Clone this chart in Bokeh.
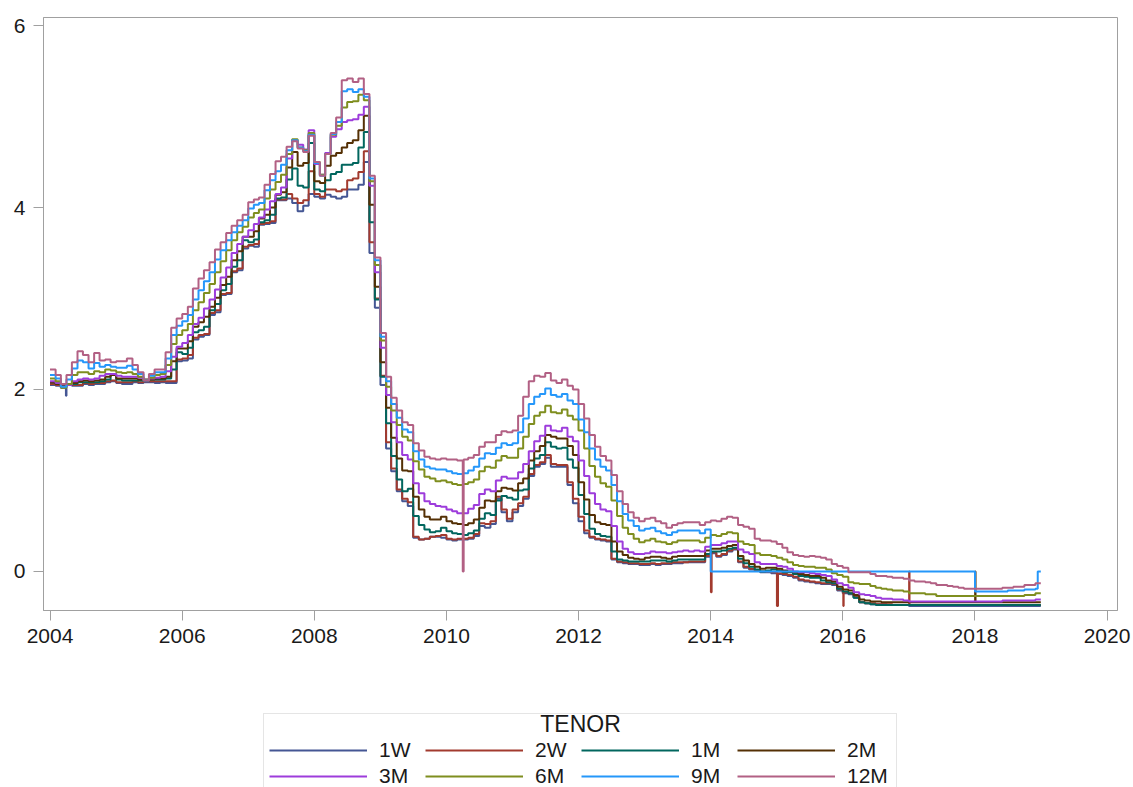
import pandas as pd
from bokeh.plotting import figure
from bokeh.layouts import column
from bokeh.models import (Range1d, FixedTicker, DatetimeTickFormatter, Legend,
                          LegendItem, Label)
from bokeh.embed import file_html
from bokeh.resources import INLINE

# Monthly fixings, first business day of each month, Jan 2004 .. Dec 2018
FIRST_MONTH = "2004-01-01"
LAST_MONTH = "2018-12-01"
LAST_DAY = "2018-12-31"

TENORS = ["1W", "2W", "1M", "2M", "3M", "6M", "9M", "12M"]
COLORS = ["#445694", "#A23A2E", "#01665E", "#543005",
          "#9D3CDB", "#7F8E1F", "#2597FA", "#B26084"]

RATE_1W = [
    2.05, 2.04, 2.02, 2.05, 2.04, 2.04, 2.06, 2.05, 2.06, 2.06, 2.08, 2.09,
    2.07, 2.06, 2.06, 2.08, 2.07, 2.08, 2.08, 2.07, 2.08, 2.07, 2.07, 2.31,
    2.32, 2.34, 2.55, 2.58, 2.60, 2.82, 2.85, 3.04, 3.05, 3.29, 3.31, 3.55,
    3.58, 3.57, 3.81, 3.82, 3.83, 4.08, 4.08, 4.10, 4.05, 3.96, 4.02, 4.15,
    4.12, 4.10, 4.14, 4.12, 4.10, 4.12, 4.20, 4.20, 4.25, 4.50, 3.50, 2.90,
    2.05, 1.35, 1.10, 0.88, 0.77, 0.72, 0.37, 0.35, 0.36, 0.38, 0.38, 0.37,
    0.35, 0.34, 0.35, 0.35, 0.36, 0.39, 0.50, 0.48, 0.52, 0.80, 0.65, 0.55,
    0.65, 0.72, 0.80, 1.05, 1.15, 1.18, 1.25, 1.15, 1.15, 1.15, 0.95, 0.75,
    0.55, 0.42, 0.37, 0.35, 0.34, 0.33, 0.13, 0.10, 0.09, 0.08, 0.08, 0.07,
    0.07, 0.08, 0.07, 0.08, 0.08, 0.09, 0.09, 0.10, 0.10, 0.10, 0.10, 0.16,
    0.20, 0.16, 0.18, 0.22, 0.24, 0.10, 0.04, 0.02, 0.01, -0.01, -0.01, -0.02,
    -0.03, -0.04, -0.05, -0.07, -0.10, -0.11, -0.12, -0.13, -0.14, -0.14, -0.15, -0.21,
    -0.24, -0.25, -0.29, -0.34, -0.35, -0.36, -0.36, -0.36, -0.37, -0.37, -0.37, -0.37,
    -0.38, -0.38, -0.38, -0.38, -0.38, -0.38, -0.38, -0.38, -0.38, -0.38, -0.38, -0.38,
    -0.38, -0.38, -0.38, -0.38, -0.38, -0.38, -0.38, -0.38, -0.38, -0.38, -0.38, -0.38,
]

RATE_2W = [
    2.06, 2.05, 2.03, 2.05, 2.05, 2.05, 2.07, 2.06, 2.07, 2.07, 2.09, 2.10,
    2.08, 2.08, 2.08, 2.09, 2.08, 2.09, 2.09, 2.09, 2.09, 2.09, 2.09, 2.33,
    2.34, 2.38, 2.57, 2.60, 2.61, 2.84, 2.87, 3.05, 3.06, 3.30, 3.33, 3.57,
    3.59, 3.60, 3.82, 3.83, 3.85, 4.09, 4.09, 4.15, 4.10, 4.05, 4.08, 4.40,
    4.15, 4.12, 4.20, 4.20, 4.18, 4.20, 4.30, 4.32, 4.39, 4.62, 3.62, 3.00,
    2.15, 1.42, 1.13, 0.90, 0.80, 0.76, 0.38, 0.35, 0.36, 0.38, 0.39, 0.40,
    0.36, 0.35, 0.36, 0.36, 0.37, 0.41, 0.53, 0.52, 0.55, 0.82, 0.68, 0.58,
    0.68, 0.75, 0.82, 1.07, 1.17, 1.20, 1.28, 1.18, 1.17, 1.17, 0.98, 0.80,
    0.60, 0.45, 0.38, 0.36, 0.35, 0.34, 0.14, 0.11, 0.10, 0.09, 0.09, 0.08,
    0.08, 0.09, 0.08, 0.09, 0.09, 0.10, 0.10, 0.10, 0.11, 0.11, 0.11, 0.17,
    0.21, 0.17, 0.19, 0.23, 0.25, 0.11, 0.05, 0.03, 0.01, 0.00, 0.00, -0.01,
    -0.02, -0.03, -0.04, -0.06, -0.09, -0.10, -0.11, -0.12, -0.13, -0.13, -0.14, -0.20,
    -0.23, -0.24, -0.28, -0.34, -0.35, -0.35, -0.36, -0.36, -0.36, -0.37, -0.37, -0.37,
    -0.37, -0.37, -0.37, -0.37, -0.37, -0.37, -0.37, -0.37, -0.37, -0.37, -0.37, -0.37,
    -0.37, -0.37, -0.37, -0.37, -0.37, -0.37, -0.37, -0.37, -0.37, -0.37, -0.37, -0.37,
]

RATE_1M = [
    2.08, 2.06, 2.04, 2.05, 2.06, 2.08, 2.08, 2.08, 2.08, 2.09, 2.11, 2.17,
    2.11, 2.10, 2.10, 2.10, 2.10, 2.10, 2.11, 2.11, 2.11, 2.12, 2.22, 2.41,
    2.39, 2.46, 2.63, 2.65, 2.69, 2.87, 2.94, 3.09, 3.16, 3.35, 3.42, 3.64,
    3.62, 3.65, 3.84, 3.86, 3.92, 4.10, 4.11, 4.31, 4.43, 4.24, 4.22, 4.71,
    4.20, 4.18, 4.30, 4.37, 4.39, 4.47, 4.47, 4.49, 4.66, 4.83, 3.84, 2.99,
    2.14, 1.63, 1.27, 1.01, 0.88, 0.91, 0.61, 0.51, 0.46, 0.43, 0.44, 0.48,
    0.44, 0.42, 0.41, 0.40, 0.42, 0.45, 0.58, 0.64, 0.62, 0.78, 0.83, 0.81,
    0.79, 0.89, 0.90, 1.13, 1.24, 1.28, 1.42, 1.37, 1.35, 1.36, 1.23, 1.14,
    0.84, 0.63, 0.47, 0.41, 0.39, 0.38, 0.22, 0.13, 0.12, 0.11, 0.11, 0.11,
    0.11, 0.12, 0.12, 0.12, 0.11, 0.12, 0.13, 0.13, 0.13, 0.13, 0.13, 0.19,
    0.22, 0.22, 0.23, 0.25, 0.26, 0.14, 0.09, 0.05, 0.02, 0.00, 0.01, 0.02,
    0.01, -0.01, -0.01, -0.03, -0.05, -0.06, -0.07, -0.07, -0.10, -0.12, -0.13, -0.19,
    -0.22, -0.24, -0.29, -0.34, -0.35, -0.36, -0.37, -0.37, -0.37, -0.37, -0.37, -0.37,
    -0.37, -0.37, -0.37, -0.37, -0.37, -0.37, -0.37, -0.37, -0.37, -0.37, -0.37, -0.37,
    -0.37, -0.37, -0.37, -0.37, -0.37, -0.37, -0.37, -0.37, -0.37, -0.37, -0.37, -0.37,
]

RATE_2M = [
    2.08, 2.06, 2.04, 2.05, 2.07, 2.09, 2.10, 2.09, 2.10, 2.11, 2.14, 2.16,
    2.12, 2.12, 2.12, 2.12, 2.11, 2.10, 2.11, 2.12, 2.12, 2.14, 2.31, 2.45,
    2.45, 2.53, 2.69, 2.74, 2.80, 2.91, 3.01, 3.15, 3.24, 3.42, 3.52, 3.68,
    3.68, 3.74, 3.88, 3.92, 4.00, 4.14, 4.17, 4.44, 4.61, 4.46, 4.49, 4.80,
    4.29, 4.27, 4.46, 4.57, 4.60, 4.66, 4.71, 4.74, 4.85, 5.01, 4.03, 3.13,
    2.30, 1.80, 1.47, 1.24, 1.11, 1.10, 0.82, 0.68, 0.60, 0.57, 0.57, 0.60,
    0.55, 0.53, 0.52, 0.51, 0.53, 0.57, 0.70, 0.78, 0.77, 0.88, 0.92, 0.91,
    0.89, 0.97, 1.02, 1.22, 1.32, 1.38, 1.50, 1.48, 1.46, 1.46, 1.38, 1.28,
    0.98, 0.79, 0.62, 0.54, 0.52, 0.51, 0.33, 0.22, 0.18, 0.15, 0.14, 0.13,
    0.15, 0.16, 0.16, 0.15, 0.14, 0.16, 0.17, 0.17, 0.17, 0.17, 0.17, 0.23,
    0.25, 0.25, 0.26, 0.28, 0.29, 0.17, 0.12, 0.08, 0.05, 0.03, 0.04, 0.04,
    0.03, 0.01, 0.00, -0.01, -0.03, -0.04, -0.05, -0.05, -0.07, -0.10, -0.11, -0.17,
    -0.20, -0.21, -0.26, -0.31, -0.32, -0.33, -0.33, -0.34, -0.34, -0.34, -0.34, -0.34,
    -0.34, -0.34, -0.34, -0.34, -0.34, -0.34, -0.34, -0.34, -0.34, -0.34, -0.34, -0.34,
    -0.34, -0.34, -0.34, -0.34, -0.34, -0.34, -0.34, -0.34, -0.34, -0.34, -0.34, -0.34,
]

RATE_3M = [
    2.09, 2.07, 2.03, 2.05, 2.09, 2.11, 2.12, 2.11, 2.12, 2.15, 2.17, 2.17,
    2.15, 2.14, 2.14, 2.14, 2.13, 2.11, 2.12, 2.13, 2.14, 2.20, 2.36, 2.47,
    2.51, 2.60, 2.72, 2.79, 2.89, 2.99, 3.10, 3.23, 3.34, 3.50, 3.60, 3.68,
    3.75, 3.82, 3.89, 3.98, 4.07, 4.15, 4.22, 4.54, 4.74, 4.69, 4.64, 4.85,
    4.48, 4.36, 4.60, 4.78, 4.86, 4.94, 4.96, 4.97, 5.02, 5.11, 4.24, 3.29,
    2.46, 1.94, 1.64, 1.42, 1.28, 1.23, 0.97, 0.86, 0.77, 0.74, 0.72, 0.71,
    0.68, 0.66, 0.64, 0.64, 0.69, 0.73, 0.85, 0.90, 0.88, 1.00, 1.04, 1.02,
    1.02, 1.09, 1.18, 1.32, 1.43, 1.49, 1.60, 1.55, 1.54, 1.58, 1.48, 1.43,
    1.22, 1.05, 0.86, 0.74, 0.68, 0.66, 0.50, 0.33, 0.25, 0.21, 0.19, 0.19,
    0.20, 0.22, 0.21, 0.21, 0.20, 0.21, 0.22, 0.23, 0.22, 0.23, 0.22, 0.27,
    0.29, 0.29, 0.31, 0.33, 0.33, 0.24, 0.21, 0.19, 0.10, 0.08, 0.08, 0.08,
    0.06, 0.05, 0.03, 0.00, -0.01, -0.01, -0.02, -0.03, -0.04, -0.05, -0.09, -0.13,
    -0.15, -0.18, -0.23, -0.25, -0.26, -0.27, -0.29, -0.30, -0.30, -0.31, -0.31, -0.32,
    -0.33, -0.33, -0.33, -0.33, -0.33, -0.33, -0.33, -0.33, -0.33, -0.33, -0.33, -0.33,
    -0.33, -0.33, -0.33, -0.33, -0.33, -0.32, -0.32, -0.32, -0.32, -0.32, -0.32, -0.31,
]

RATE_6M = [
    2.12, 2.09, 2.02, 2.06, 2.16, 2.19, 2.19, 2.17, 2.20, 2.19, 2.22, 2.21,
    2.19, 2.18, 2.19, 2.17, 2.14, 2.11, 2.13, 2.16, 2.17, 2.27, 2.50, 2.60,
    2.65, 2.72, 2.87, 2.96, 3.06, 3.16, 3.29, 3.41, 3.53, 3.64, 3.73, 3.79,
    3.89, 3.94, 3.98, 4.10, 4.20, 4.28, 4.36, 4.59, 4.75, 4.66, 4.63, 4.82,
    4.50, 4.36, 4.59, 4.80, 4.90, 5.10, 5.16, 5.17, 5.24, 5.18, 4.29, 3.37,
    2.54, 2.03, 1.77, 1.61, 1.48, 1.44, 1.21, 1.12, 1.04, 1.02, 0.99, 1.00,
    0.98, 0.96, 0.95, 0.96, 0.98, 1.01, 1.10, 1.15, 1.14, 1.22, 1.27, 1.25,
    1.25, 1.35, 1.48, 1.62, 1.71, 1.75, 1.82, 1.75, 1.74, 1.78, 1.71, 1.67,
    1.55, 1.35, 1.16, 1.04, 0.97, 0.93, 0.78, 0.61, 0.48, 0.41, 0.36, 0.32,
    0.34, 0.36, 0.33, 0.32, 0.30, 0.32, 0.34, 0.34, 0.34, 0.34, 0.32, 0.37,
    0.40, 0.39, 0.41, 0.43, 0.42, 0.33, 0.30, 0.29, 0.20, 0.18, 0.18, 0.17,
    0.15, 0.13, 0.10, 0.07, 0.06, 0.05, 0.05, 0.04, 0.04, 0.02, -0.02, -0.04,
    -0.06, -0.12, -0.13, -0.14, -0.14, -0.16, -0.18, -0.19, -0.20, -0.21, -0.21, -0.22,
    -0.24, -0.24, -0.24, -0.25, -0.25, -0.27, -0.27, -0.27, -0.27, -0.27, -0.27, -0.27,
    -0.27, -0.27, -0.27, -0.27, -0.27, -0.27, -0.27, -0.27, -0.27, -0.26, -0.26, -0.24,
]

# 9M fixings were stored as 0 between Jan 2014 and Dec 2017
RATE_9M = [
    2.16, 2.12, 2.03, 2.11, 2.23, 2.32, 2.30, 2.23, 2.29, 2.25, 2.27, 2.25,
    2.24, 2.24, 2.26, 2.22, 2.17, 2.10, 2.15, 2.19, 2.19, 2.34, 2.60, 2.70,
    2.75, 2.82, 2.99, 3.09, 3.19, 3.29, 3.43, 3.53, 3.64, 3.73, 3.80, 3.86,
    3.99, 4.03, 4.05, 4.19, 4.30, 4.40, 4.47, 4.63, 4.74, 4.66, 4.62, 4.80,
    4.49, 4.35, 4.59, 4.81, 4.94, 5.28, 5.30, 5.27, 5.30, 5.22, 4.32, 3.42,
    2.58, 2.09, 1.84, 1.69, 1.56, 1.53, 1.32, 1.23, 1.15, 1.13, 1.12, 1.12,
    1.10, 1.08, 1.07, 1.08, 1.11, 1.15, 1.24, 1.30, 1.29, 1.36, 1.41, 1.39,
    1.41, 1.53, 1.68, 1.84, 1.92, 1.95, 2.01, 1.94, 1.92, 1.95, 1.88, 1.84,
    1.67, 1.53, 1.35, 1.23, 1.15, 1.11, 0.95, 0.77, 0.63, 0.56, 0.50, 0.45,
    0.47, 0.48, 0.44, 0.42, 0.40, 0.43, 0.45, 0.45, 0.45, 0.45, 0.42, 0.46,
    0.00, 0.00, 0.00, 0.00, 0.00, 0.00, 0.00, 0.00, 0.00, 0.00, 0.00, 0.00,
    0.00, 0.00, 0.00, 0.00, 0.00, 0.00, 0.00, 0.00, 0.00, 0.00, 0.00, 0.00,
    0.00, 0.00, 0.00, 0.00, 0.00, 0.00, 0.00, 0.00, 0.00, 0.00, 0.00, 0.00,
    0.00, 0.00, 0.00, 0.00, 0.00, 0.00, 0.00, 0.00, 0.00, 0.00, 0.00, 0.00,
    -0.22, -0.22, -0.22, -0.22, -0.22, -0.22, -0.21, -0.21, -0.21, -0.20, -0.20, -0.19,
]

RATE_12M = [
    2.22, 2.16, 2.06, 2.16, 2.30, 2.42, 2.38, 2.30, 2.40, 2.32, 2.33, 2.30,
    2.31, 2.31, 2.34, 2.27, 2.19, 2.10, 2.17, 2.22, 2.22, 2.41, 2.68, 2.78,
    2.83, 2.91, 3.11, 3.22, 3.31, 3.40, 3.54, 3.62, 3.72, 3.80, 3.86, 3.92,
    4.06, 4.09, 4.11, 4.25, 4.37, 4.51, 4.56, 4.67, 4.73, 4.65, 4.61, 4.79,
    4.50, 4.35, 4.59, 4.82, 4.99, 5.40, 5.42, 5.38, 5.42, 5.25, 4.35, 3.45,
    2.62, 2.14, 1.91, 1.77, 1.64, 1.61, 1.41, 1.33, 1.26, 1.24, 1.23, 1.24,
    1.23, 1.23, 1.22, 1.23, 1.25, 1.28, 1.37, 1.42, 1.42, 1.50, 1.54, 1.53,
    1.55, 1.71, 1.92, 2.09, 2.15, 2.14, 2.18, 2.10, 2.07, 2.11, 2.04, 2.00,
    1.84, 1.68, 1.50, 1.37, 1.27, 1.22, 1.06, 0.88, 0.74, 0.65, 0.59, 0.55,
    0.58, 0.59, 0.55, 0.53, 0.48, 0.51, 0.53, 0.54, 0.54, 0.54, 0.51, 0.54,
    0.56, 0.55, 0.58, 0.60, 0.59, 0.51, 0.49, 0.47, 0.36, 0.34, 0.34, 0.33,
    0.30, 0.26, 0.21, 0.18, 0.17, 0.16, 0.17, 0.16, 0.15, 0.13, 0.08, 0.06,
    0.04, -0.01, -0.01, -0.01, -0.01, -0.03, -0.05, -0.05, -0.06, -0.07, -0.07, -0.08,
    -0.10, -0.11, -0.11, -0.12, -0.13, -0.15, -0.15, -0.16, -0.17, -0.18, -0.19, -0.19,
    -0.19, -0.19, -0.19, -0.19, -0.19, -0.18, -0.18, -0.17, -0.17, -0.15, -0.15, -0.13,
]

# Single-day bad prints in the source file (start day, day the normal fixing resumes)
BAD_TENOR = ["1W", "12M", "2W", "2W", "2W", "2W", "2M", "9M"]
BAD_START = ["2004-03-29", "2010-04-01", "2014-01-02", "2015-01-02",
             "2016-01-04", "2017-01-02", "2018-01-02", "2018-12-14"]
BAD_END = ["2004-04-01", "2010-04-06", "2014-01-06", "2015-01-08",
           "2016-01-06", "2017-01-04", "2018-01-04", None]
BAD_VALUE = [1.93, 0.0, -0.23, -0.38, -0.38, 0.0, 0.0, 0.0]

Y_TICKS = [0, 2, 4, 6]
X_TICK_YEARS = [2004, 2006, 2008, 2010, 2012, 2014, 2016, 2018, 2020]
LEGEND_TITLE = "TENOR"

RATES = dict(zip(TENORS, [RATE_1W, RATE_2W, RATE_1M, RATE_2M,
                          RATE_3M, RATE_6M, RATE_9M, RATE_12M]))
months = pd.date_range(FIRST_MONTH, LAST_MONTH, freq="MS")


def tenor_series(tenor):
    vals = RATES[tenor]
    s = pd.Series(vals, index=months, dtype=float)
    s[pd.Timestamp(LAST_DAY)] = vals[-1]
    for t, a, b, v in zip(BAD_TENOR, BAD_START, BAD_END, BAD_VALUE):
        if t != tenor:
            continue
        a = pd.Timestamp(a)
        s = s.sort_index()
        if b is None:
            s[a] = v
            s[s.index >= a] = v
        else:
            b = pd.Timestamp(b)
            resume = s.loc[:b].iloc[-1]
            s[a] = v
            s[b] = resume
    return s.sort_index()


FONT = "Liberation Sans"
AXIS_GREY = "#a0a0a0"
TEXT = "#1a1a1a"
LEFT, RIGHT = 43, 16
STRIP_H = 87

p = figure(
    width=1133, height=700,
    x_axis_type="datetime",
    x_range=Range1d(pd.Timestamp("2003-11-26"), pd.Timestamp("2020-02-28")),
    y_range=Range1d(-0.43, 6.09),
    output_backend="svg", toolbar_location=None,
    min_border_left=LEFT, min_border_right=RIGHT, min_border_top=17, min_border_bottom=90,
)
p.xgrid.visible = False
p.ygrid.visible = False
p.outline_line_color = AXIS_GREY

for ax in (p.xaxis[0], p.yaxis[0]):
    ax.axis_line_color = AXIS_GREY
    ax.major_tick_line_color = AXIS_GREY
    ax.minor_tick_line_color = None
    ax.major_tick_out = 10
    ax.major_tick_in = 0
    ax.major_label_text_font = FONT
    ax.major_label_text_font_size = "21px"
    ax.major_label_text_color = TEXT
    ax.major_label_standoff = 8

p.yaxis.ticker = FixedTicker(ticks=Y_TICKS)
p.xaxis.ticker = FixedTicker(
    ticks=[pd.Timestamp(f"{y}-01-01").value // 10**6 for y in X_TICK_YEARS])
p.xaxis.formatter = DatetimeTickFormatter(
    years="%Y", months="%Y", days="%Y", hours="%Y", minutes="%Y",
    hourmin="%Y", seconds="%Y", minsec="%Y", milliseconds="%Y", microseconds="%Y")

series = {t: tenor_series(t) for t in TENORS}
for tenor, color in zip(TENORS, COLORS):
    s = series[tenor]
    p.step(x=s.index, y=s.values, mode="after", line_color=color, line_width=2)

# Legend strip under the chart. Its key renderers carry the same series but
# sit outside this strip's (0, 1) ranges, so only the legend samples show.
lf = figure(
    width=1133, height=STRIP_H, x_range=Range1d(0, 1), y_range=Range1d(0, 1),
    x_axis_location=None, y_axis_location=None,
    output_backend="svg", toolbar_location=None,
    min_border_left=LEFT, min_border_right=RIGHT, min_border_top=0, min_border_bottom=0,
)
lf.xgrid.visible = False
lf.ygrid.visible = False
lf.outline_line_color = None

items = []
for tenor, color in zip(TENORS, COLORS):
    s = series[tenor]
    key = lf.step(x=s.index, y=s.values, mode="after", line_color=color, line_width=2)
    items.append(LegendItem(label=tenor, renderers=[key]))

legend = Legend(
    items=items, orientation="horizontal", ncols=4,
    location=(220, -7),
    title=" ", title_text_font=FONT, title_text_font_size="14px",
    title_standoff=3,
    label_text_font=FONT, label_text_font_size="21px", label_text_color=TEXT,
    glyph_width=98, glyph_height=20, label_standoff=12, label_width=44,
    label_height=20, spacing=2, padding=5,
    border_line_color="#cccccc", background_fill_color=None,
)
lf.add_layout(legend)

# Legend heading, centred over the key rows (strip ranges are 0..1)
lf.add_layout(Label(
    x=(580 - LEFT) / (1133 - LEFT - RIGHT), y=(STRIP_H - 23) / STRIP_H,
    x_units="data", y_units="data",
    text=LEGEND_TITLE, text_align="center", text_baseline="middle",
    text_font=FONT, text_font_size="23px", text_color=TEXT,
))

open("out.html", "w").write(file_html(column(p, lf, spacing=0), INLINE))
